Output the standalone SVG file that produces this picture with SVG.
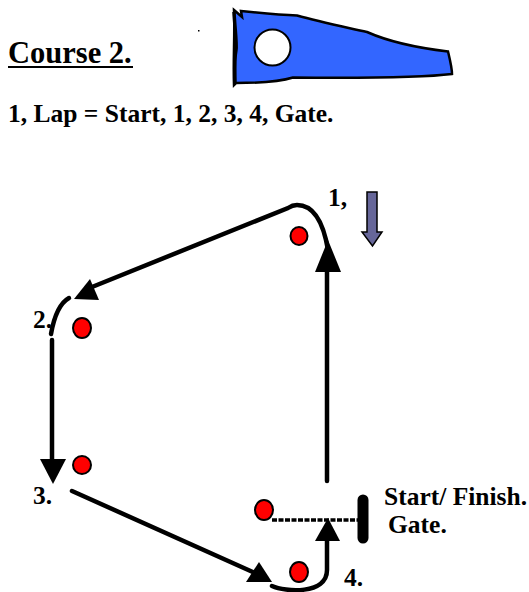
<svg xmlns="http://www.w3.org/2000/svg" width="529" height="592" viewBox="0 0 529 592">
<defs><style>
text{font-family:"Liberation Serif","Times New Roman",serif;font-weight:bold;fill:#000}
.t{font-size:25.500px}
.p{fill:none;stroke:#000;stroke-width:4.500;stroke-linecap:round}
.h{fill:#000;stroke:none}
.b{fill:#f00;stroke:#000;stroke-width:2}
</style></defs>
<rect width="529" height="592" fill="#fff"/>
<g id="boat">
<path d="M234 10 L242 17 L241 11 C260 13 280 15 297 15.500 C320 22 345 27 367 32 C385 40 410 47 448 51.500 C450 60 452 68 452 74 C420 78 350 78 293 77.500 C285 80 270 83 236 83 L234 85 C233 60 235 35 234 10 Z" fill="#3366ff" stroke="#000" stroke-width="2.500"/>
<path d="M234 12 C235 30 237 45 236 50 C234 60 235 75 235 84" fill="none" stroke="#000" stroke-width="3.500"/>
<circle cx="272.500" cy="47.500" r="18" fill="#fff" stroke="#000" stroke-width="2"/>
<rect x="198" y="30" width="1.500" height="1.500" fill="#000"/>
</g>
<g id="title">
<text x="8" y="63" font-size="30.500">Course 2.</text>
<rect x="8" y="66" width="125" height="2" fill="#000"/>
<text x="8" y="122" font-size="25.500">1, Lap = Start, 1, 2, 3, 4, Gate.</text>
</g>
<g id="connectors">
<path class="p" d="M328 250 C325 232 318 205 297 205 C293 205 291 206 288 208 L92 287"/>
<path class="h" d="M74 299 L90 279 L99 300 Z"/>
<path class="h" d="M315 272 L328 240 L341 272 Z"/>
<path class="p" d="M327 481 L327 262"/>
<path class="p" d="M69 298 C60 303 54 317 51 334"/>
<path class="p" d="M52 340 L52 465"/>
<path class="h" d="M40 459 L66 459 L53 484 Z"/>
<path class="p" d="M72 491 L255 573"/>
<path class="h" d="M246 582 L259 562 L272 582 Z"/>
<path class="p" d="M272 586 C285 592 327 595 327 570 L327 535"/>
<path class="h" d="M315 541 L328 518 L340 541 Z"/>
<path fill="none" stroke="#000" stroke-width="3.500" stroke-dasharray="5 1.500" d="M272 520 L360 520"/>
<path fill="none" stroke="#000" stroke-width="11" stroke-linecap="round" d="M363 500 L363 538"/>
</g>
<g id="buoy-1"><ellipse class="b" cx="299" cy="236" rx="8.500" ry="9"/><text class="t" x="328" y="206">1,</text></g>
<g id="buoy-2"><ellipse class="b" cx="82" cy="328" rx="9" ry="10"/><text class="t" x="33" y="328">2.</text></g>
<g id="buoy-3"><circle class="b" cx="82" cy="465" r="9"/><text class="t" x="33" y="504">3.</text></g>
<g id="buoy-4"><ellipse class="b" cx="299" cy="572" rx="9" ry="10"/><text class="t" x="344" y="586">4.</text></g>
<g id="gate"><ellipse class="b" cx="264" cy="510" rx="9" ry="10"/><text class="t" x="384" y="505">Start/ Finish.</text><text class="t" x="388" y="533">Gate.</text></g>
<g id="wind"><path d="M367 192 L377 192 L377 232 L382 232 L372.500 246 L362 232 L367 232 Z" fill="#666699" stroke="#000" stroke-width="1.500"/></g>
</svg>
